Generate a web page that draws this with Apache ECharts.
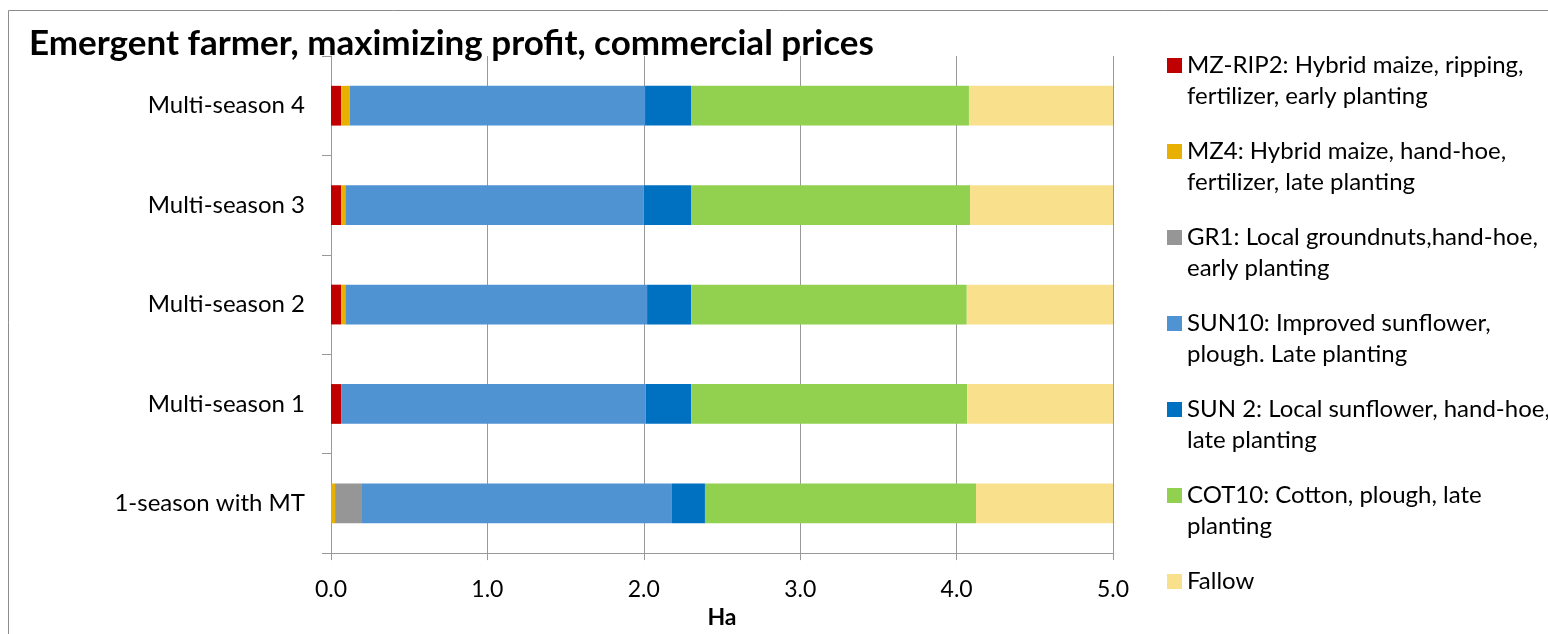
<!DOCTYPE html>
<html>
<head>
<meta charset="utf-8">
<script src="https://cdn.jsdelivr.net/npm/echarts@6/dist/echarts.min.js"></script>
<style>
  html, body { margin: 0; padding: 0; background: #fff; }
  #chart { width: 1548px; height: 634px; }
</style>
</head>
<body>
<div id="chart"></div>
<script>
// Scenarios, listed bottom to top as the category axis draws them
const categories = ['1-season with MT', 'Multi-season 1', 'Multi-season 2', 'Multi-season 3', 'Multi-season 4'];

// Area per cropping activity (Ha)
const mzRip2 = [0, 0.065, 0.065, 0.065, 0.065];
const mz4    = [0.026, 0, 0.027, 0.027, 0.055];
const gr1    = [0.172, 0, 0, 0, 0];
const sun10  = [1.982, 1.948, 1.929, 1.908, 1.888];
const sun2   = [0.211, 0.290, 0.282, 0.302, 0.294];
const cot10  = [1.733, 1.765, 1.762, 1.784, 1.777];
const fallow = [0.876, 0.932, 0.935, 0.914, 0.921];

const seriesNames = [
  'MZ-RIP2: Hybrid maize, ripping,\nfertilizer, early planting',
  'MZ4: Hybrid maize, hand-hoe,\nfertilizer, late planting',
  'GR1: Local groundnuts,hand-hoe,\nearly planting',
  'SUN10: Improved sunflower,\nplough. Late planting',
  'SUN 2: Local sunflower, hand-hoe,\nlate planting',
  'COT10: Cotton, plough, late\nplanting',
  'Fallow'
];
const seriesData = [mzRip2, mz4, gr1, sun10, sun2, cot10, fallow];
const colors = ['#C00000', '#E8B000', '#969696', '#4F93D3', '#0070C0', '#92D050', '#F9E08D'];

const xTicks = [0, 1, 2, 3, 4, 5];

const FONT = 'Lato, "Open Sans", sans-serif';
const LINE = 31;

// Legend text is padded to three lines so the swatch sits beside the first line
function legendText(name) {
  const lines = name.split('\n');
  while (lines.length < 2) lines.push(' ');
  return ' \n' + lines.join('\n');
}

const chart = echarts.init(document.getElementById('chart'), null, { renderer: 'canvas' });

const option = {
  backgroundColor: '#fff',
  animation: false,
  title: {
    text: 'Emergent farmer, maximizing profit, commercial prices',
    left: 24,
    top: 21,
    textStyle: { fontFamily: FONT, fontWeight: 'bold', fontSize: 35, color: '#000' }
  },
  graphic: [{
    type: 'rect',
    shape: { x: 8.5, y: 10.5, width: 1600, height: 700 },
    style: { fill: 'none', stroke: '#8c8c8c', lineWidth: 1 },
    silent: true,
    z: -1
  }],
  legend: {
    orient: 'vertical',
    left: 1162,
    top: 14,
    height: 620,
    itemWidth: 15,
    itemHeight: 15,
    itemGap: -7,
    icon: 'rect',
    selectedMode: false,
    formatter: legendText,
    textStyle: { fontFamily: FONT, fontSize: 24, color: '#000', lineHeight: LINE },
    data: seriesNames
  },
  grid: { left: 331, width: 782, top: 56, height: 505, containLabel: false },
  xAxis: {
    type: 'value',
    min: xTicks[0],
    max: xTicks[xTicks.length - 1],
    interval: 1,
    name: 'Ha',
    nameLocation: 'middle',
    nameGap: 49,
    nameTextStyle: { fontFamily: FONT, fontWeight: 'bold', fontSize: 23, color: '#000' },
    axisLine: { show: true, lineStyle: { color: '#999', width: 1 } },
    axisTick: { show: true, length: 7, lineStyle: { color: '#999' } },
    axisLabel: {
      margin: 25,
      fontFamily: FONT, fontSize: 23, color: '#000',
      formatter: v => v.toFixed(1)
    },
    splitLine: { show: true, lineStyle: { color: '#999', width: 1 } }
  },
  yAxis: {
    type: 'category',
    data: categories,
    axisLine: { show: true, lineStyle: { color: '#999', width: 1 } },
    axisTick: { show: true, length: 9, lineStyle: { color: '#999' } },
    axisLabel: { margin: 26, fontFamily: FONT, fontSize: 24, color: '#000' },
    splitLine: { show: false }
  },
  series: seriesNames.map((name, i) => ({
    name,
    type: 'bar',
    stack: 'area',
    barWidth: '40%',
    data: seriesData[i],
    itemStyle: { color: colors[i] },
    emphasis: { disabled: true }
  }))
};

chart.setOption(option);
</script>
</body>
</html>
